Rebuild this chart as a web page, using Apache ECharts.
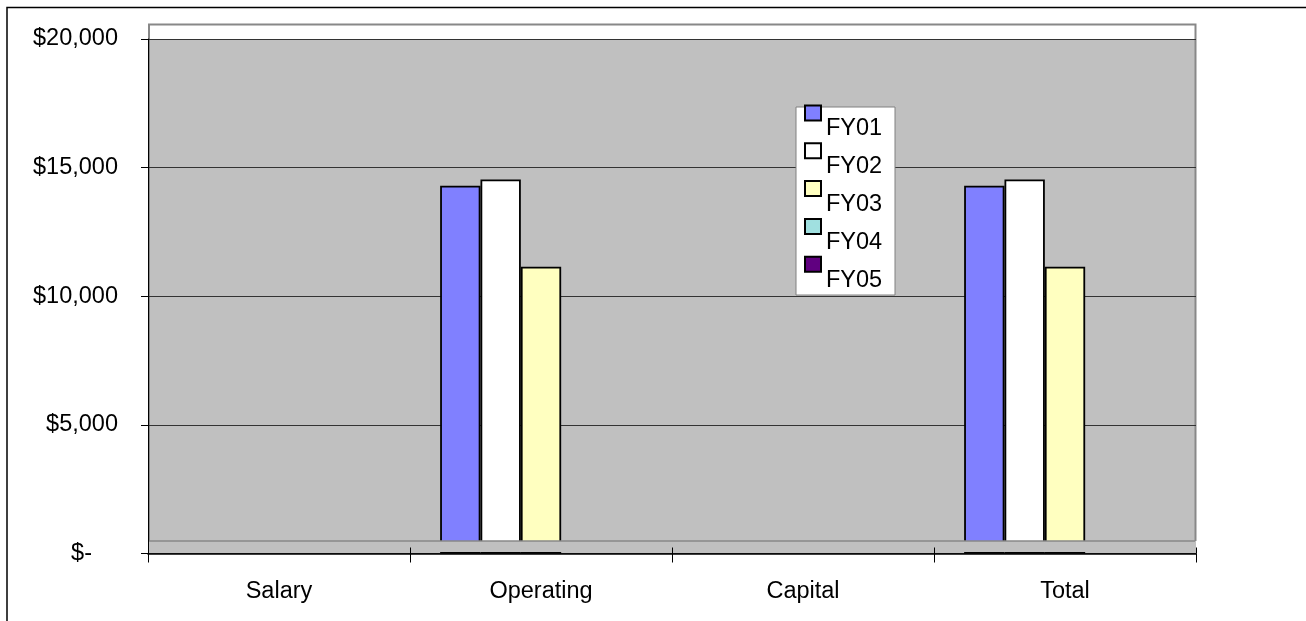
<!DOCTYPE html>
<html>
<head>
<meta charset="utf-8">
<script src="https://cdn.jsdelivr.net/npm/echarts@6/dist/echarts.min.js"></script>
<style>
  html, body { margin: 0; padding: 0; background: #fff; }
  #chart { width: 1306px; height: 621px; }
</style>
</head>
<body>
<div id="chart"></div>
<script>
// Budget by category, one column per fiscal year
const categories = ['Salary', 'Operating', 'Capital', 'Total'];
const fy01 = [0, 14300, 0, 14300];
const fy02 = [0, 14540, 0, 14540];
const fy03 = [0, 11150, 0, 11150];
const fy04 = [0, 0, 0, 0];
const fy05 = [0, 0, 0, 0];
const seriesNames = ['FY01', 'FY02', 'FY03', 'FY04', 'FY05'];
const seriesColors = ['#8080FF', '#FFFFFF', '#FFFFC0', '#A0E0E0', '#600080'];
const yTickValues = [0, 5000, 10000, 15000, 20000];
const yTickLabels = ['$-', '$5,000', '$10,000', '$15,000', '$20,000'];

const FONT = '"Liberation Sans", Arial, Helvetica, sans-serif';
const FS = 23.5;

const G = { left: 148, top: 39, width: 1048, height: 514.5 };
const floorTop = 541;

const values = [fy01, fy02, fy03, fy04, fy05];
const series = seriesNames.map((name, i) => ({
  name: name,
  type: 'bar',
  xAxisIndex: 0,
  yAxisIndex: 0,
  // empty columns get no outline, so nothing is drawn for them
  data: values[i].map(v => v === 0 ? { value: v, itemStyle: { borderWidth: 0 } } : v),
  barGap: '0%',
  barCategoryGap: '23%',
  itemStyle: { color: seriesColors[i], borderColor: '#000', borderWidth: 1.8 },
  emphasis: { disabled: true },
  z: 3
}));

const chart = echarts.init(document.getElementById('chart'), null, { renderer: 'canvas' });
chart.setOption({
  animation: false,
  backgroundColor: '#fff',
  textStyle: { fontFamily: FONT },
  grid: [
    { left: G.left, top: G.top, width: G.width, height: G.height,
      show: true, backgroundColor: '#C0C0C0', borderWidth: 0 },
    { left: G.left, top: G.top, width: G.width, height: G.height, show: false }
  ],
  xAxis: [
    {
      type: 'category', gridIndex: 0, data: categories,
      axisLine: { show: true, lineStyle: { color: '#000', width: 1.6 } },
      axisTick: { show: true, length: 9, lineStyle: { color: '#000', width: 1 } },
      axisLabel: { margin: 26, color: '#000', fontSize: FS, fontFamily: FONT },
      splitLine: { show: false },
      z: 12
    },
    {
      type: 'category', gridIndex: 1, data: categories,
      axisLine: { show: false },
      axisTick: { show: true, inside: true, length: 6, lineStyle: { color: '#000', width: 1 } },
      axisLabel: { show: false },
      splitLine: { show: false },
      z: 12
    }
  ],
  yAxis: [
    {
      type: 'value', gridIndex: 0, min: 0, max: 20000, interval: 5000,
      axisLine: { show: true, lineStyle: { color: '#000', width: 1 } },
      axisTick: { show: true, length: 7, lineStyle: { color: '#000', width: 1 } },
      axisLabel: {
        margin: 30, color: '#000', fontSize: FS, fontFamily: FONT,
        formatter: function (v) {
          const idx = yTickValues.indexOf(v);
          const txt = idx >= 0 ? yTickLabels[idx] : String(v);
          return v === 0 ? '{z|' + txt + '}' : txt;
        },
        rich: { z: { fontSize: FS, fontFamily: FONT, color: '#000', padding: [0, 26, 0, 0] } }
      },
      splitLine: { show: true, lineStyle: { color: '#333', width: 1 } }
    },
    {
      type: 'value', gridIndex: 1, min: 0, max: 20000, interval: 5000, show: false
    }
  ],
  legend: {
    orient: 'vertical',
    left: 804, top: 98, padding: 0,
    itemGap: -5.2, itemWidth: 16, itemHeight: 15,
    icon: 'rect',
    data: seriesNames,
    selectedMode: false,
    formatter: name => '{s| }\n{t|' + name + '}',
    textStyle: {
      color: '#000', fontSize: FS, fontFamily: FONT,
      rich: {
        s: { fontSize: FS, lineHeight: 32, fontFamily: FONT },
        t: { fontSize: FS, lineHeight: 6, fontFamily: FONT, color: '#000' }
      }
    },
    z: 20
  },
  graphic: [
    // outer chart frame
    { type: 'rect', shape: { x: 7, y: 7.5, width: 1320, height: 640 },
      style: { fill: null, stroke: '#000', lineWidth: 1.5 }, silent: true, z: 1 },
    // back wall: top strip above the 20,000 line and its outline
    { type: 'rect', shape: { x: G.left, y: 24, width: G.width, height: G.top - 24 },
      style: { fill: '#fff', stroke: null }, silent: true, z: -1 },
    { type: 'polyline', shape: { points: [[G.left + 1, floorTop], [G.left + 1, 24.5], [G.left + G.width - 0.5, 24.5], [G.left + G.width - 0.5, floorTop]] },
      style: { fill: null, stroke: '#888', lineWidth: 2 }, silent: true, z: 0 },
    // floor band in front of the column bases
    { type: 'rect', shape: { x: G.left + 1, y: floorTop, width: G.width - 1, height: 11 },
      style: { fill: '#C0C0C0', stroke: null }, silent: true, z: 10 },
    { type: 'line', shape: { x1: G.left + 1, y1: floorTop, x2: G.left + G.width - 1, y2: floorTop },
      style: { stroke: '#888', lineWidth: 1.5 }, silent: true, z: 10 },
    // legend box
    { type: 'rect', shape: { x: 796, y: 107, width: 99, height: 188 },
      style: { fill: '#fff', stroke: '#808080', lineWidth: 1 }, silent: true, z: 15 }
  ],
  series: series
});
</script>
</body>
</html>
